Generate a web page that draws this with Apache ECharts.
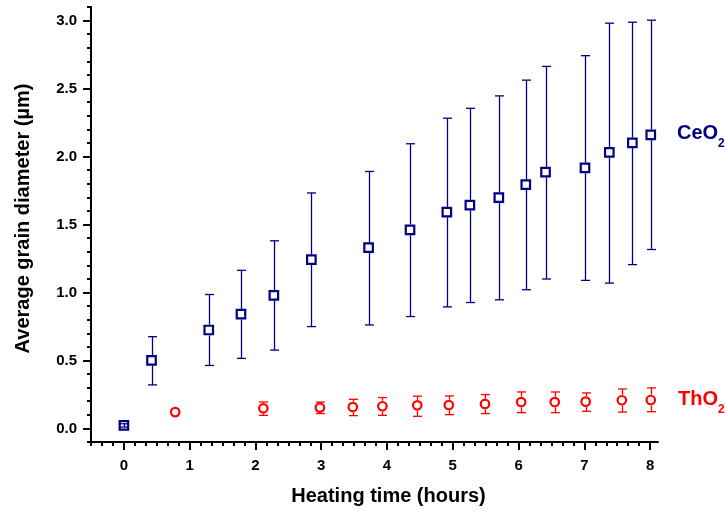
<!DOCTYPE html>
<html><head><meta charset="utf-8">
<script src="https://cdn.jsdelivr.net/npm/echarts@6/dist/echarts.min.js"></script>
<style>html,body{margin:0;padding:0;background:#fff}#c{width:726px;height:511px}</style>
</head><body><div id="c"></div>
<script>
// CeO2 data (hours, average grain diameter µm, error bar low/high)
const ceoHours = [0, 0.42, 1.29, 1.78, 2.28, 2.85, 3.72, 4.35, 4.91, 5.26, 5.70, 6.11, 6.41, 7.01, 7.38, 7.73, 8.01];
const ceoDiam  = [0.022, 0.50, 0.724, 0.84, 0.978, 1.242, 1.33, 1.461, 1.591, 1.643, 1.698, 1.794, 1.885, 1.916, 2.03, 2.101, 2.16];
const ceoLow   = [0.01, 0.32, 0.463, 0.515, 0.576, 0.749, 0.761, 0.823, 0.894, 0.926, 0.946, 1.02, 1.099, 1.089, 1.069, 1.205, 1.316];
const ceoHigh  = [0.034, 0.675, 0.985, 1.163, 1.38, 1.732, 1.89, 2.094, 2.282, 2.355, 2.446, 2.562, 2.663, 2.742, 2.981, 2.988, 3.003];
// ThO2 data
const thoHours = [0.78, 2.12, 2.98, 3.48, 3.93, 4.46, 4.94, 5.49, 6.04, 6.55, 7.02, 7.57, 8.01];
const thoDiam  = [0.12, 0.148, 0.153, 0.157, 0.163, 0.17, 0.172, 0.18, 0.194, 0.194, 0.197, 0.207, 0.209];
const thoLow   = [0.12, 0.096, 0.109, 0.094, 0.096, 0.089, 0.101, 0.109, 0.116, 0.116, 0.126, 0.12, 0.123];
const thoHigh  = [0.12, 0.194, 0.194, 0.214, 0.227, 0.237, 0.239, 0.249, 0.268, 0.268, 0.261, 0.29, 0.298];
// axis ticks
const xMajor = [0, 1, 2, 3, 4, 5, 6, 7, 8];
const yMajor = [0, 0.5, 1.0, 1.5, 2.0, 2.5, 3.0];
const xMinor = []; for (let i = -3; i <= 48; i++) xMinor.push(i / 6);
const yMinor = []; for (let i = -1; i <= 31; i++) yMinor.push(i / 10);

const FONT = "'Liberation Sans', Arial, sans-serif";
const NAVY = '#000080', RED = '#ff0000';
const X_MIN = -0.5, X_MAX = 8.12, Y_MIN = -0.1, Y_MAX = 3.1;

function errRender(color, r) {
  return function (params, api) {
    const x = api.value(0), lo = api.value(1), hi = api.value(2), y = api.value(3);
    if (hi <= lo) return { type: 'group', children: [] };
    const pLo = api.coord([x, lo]), pHi = api.coord([x, hi]), pC = api.coord([x, y]);
    const cx = Math.round(pC[0]) + 0.5;
    const st = { stroke: color, lineWidth: 1.3 };
    const cap = 4.5;
    const ch = [];
    if (pHi[1] < pC[1] - r && pLo[1] > pC[1] + r) {
      ch.push({ type: 'line', shape: { x1: cx, y1: pHi[1], x2: cx, y2: pC[1] - r }, style: st });
      ch.push({ type: 'line', shape: { x1: cx, y1: pC[1] + r, x2: cx, y2: pLo[1] }, style: st });
    } else {
      ch.push({ type: 'line', shape: { x1: cx, y1: pHi[1], x2: cx, y2: pLo[1] }, style: st });
    }
    ch.push({ type: 'line', shape: { x1: cx - cap, y1: pHi[1], x2: cx + cap, y2: pHi[1] }, style: st });
    ch.push({ type: 'line', shape: { x1: cx - cap, y1: pLo[1], x2: cx + cap, y2: pLo[1] }, style: st });
    return { type: 'group', children: ch };
  };
}

const chart = echarts.init(document.getElementById('c'), null, { renderer: 'canvas' });
const baseX = { type: 'value', min: X_MIN, max: X_MAX, gridIndex: 0, position: 'bottom', splitLine: { show: false } };
const baseY = { type: 'value', min: Y_MIN, max: Y_MAX, gridIndex: 0, position: 'left', splitLine: { show: false } };

chart.setOption({
  animation: false,
  backgroundColor: '#fff',
  grid: { left: 91, right: 68, top: 7, bottom: 69, containLabel: false },
  xAxis: [
    Object.assign({}, baseX, {
      axisLine: { show: true, onZero: false, lineStyle: { color: '#000', width: 2 } },
      axisTick: { show: true, customValues: xMinor, length: 4, lineStyle: { color: '#000', width: 2 } },
      axisLabel: { show: false }
    }),
    Object.assign({}, baseX, {
      axisLine: { show: false, onZero: false },
      axisTick: { show: true, customValues: xMajor, length: 8, lineStyle: { color: '#000', width: 2 } },
      axisLabel: { show: true, customValues: xMajor, margin: 16, color: '#000', fontSize: 15, fontWeight: 'bold', fontFamily: FONT,
        formatter: v => String(Math.round(v)) },
      name: 'Heating time (hours)', nameLocation: 'middle', nameGap: 44,
      nameTextStyle: { color: '#000', fontSize: 20, fontWeight: 'bold', fontFamily: FONT, padding: [0, 0, 0, 28] }
    })
  ],
  yAxis: [
    Object.assign({}, baseY, {
      axisLine: { show: true, onZero: false, lineStyle: { color: '#000', width: 2 } },
      axisTick: { show: true, customValues: yMinor, length: 4, lineStyle: { color: '#000', width: 2 } },
      axisLabel: { show: false }
    }),
    Object.assign({}, baseY, {
      axisLine: { show: false, onZero: false },
      axisTick: { show: true, customValues: yMajor, length: 8, lineStyle: { color: '#000', width: 2 } },
      axisLabel: { show: true, customValues: yMajor, margin: 14, color: '#000', fontSize: 15, fontWeight: 'bold', fontFamily: FONT,
        formatter: v => v.toFixed(1) },
      name: 'Average grain diameter (µm)', nameLocation: 'middle', nameGap: 58,
      nameTextStyle: { color: '#000', fontSize: 20, fontWeight: 'bold', fontFamily: FONT, padding: [0, 0, 0, 12] }
    })
  ],
  series: [
    {
      type: 'scatter', name: 'CeO2', xAxisIndex: 0, yAxisIndex: 0, z: 2,
      symbol: 'rect', symbolSize: 8.5,
      itemStyle: { color: '#fff', borderColor: NAVY, borderWidth: 2.2, opacity: 1 },
      data: ceoHours.map((h, i) => [h, ceoDiam[i]])
    },
    {
      type: 'scatter', name: 'ThO2', xAxisIndex: 0, yAxisIndex: 0, z: 2,
      symbol: 'circle', symbolSize: 8.5,
      itemStyle: { color: '#fff', borderColor: RED, borderWidth: 2.2, opacity: 1 },
      data: thoHours.map((h, i) => [h, thoDiam[i]])
    },
    {
      type: 'custom', xAxisIndex: 0, yAxisIndex: 0, z: 3, clip: false,
      renderItem: errRender(NAVY, 5.3),
      encode: { x: 0, y: [1, 2] },
      data: ceoHours.map((h, i) => [h, ceoLow[i], ceoHigh[i], ceoDiam[i]])
    },
    {
      type: 'custom', xAxisIndex: 0, yAxisIndex: 0, z: 3, clip: false,
      renderItem: errRender(RED, 5.4),
      encode: { x: 0, y: [1, 2] },
      data: thoHours.map((h, i) => [h, thoLow[i], thoHigh[i], thoDiam[i]])
    }
  ],
  graphic: [
    { type: 'text', left: 677, top: 123, style: { text: '{m|CeO}{s|2}', rich: {
      m: { fontSize: 20, fontWeight: 'bold', fontFamily: FONT, fill: NAVY, lineHeight: 24, verticalAlign: 'bottom' },
      s: { fontSize: 12, fontWeight: 'bold', fontFamily: FONT, fill: NAVY, lineHeight: 12, verticalAlign: 'bottom', padding: [0, 0, -7, 0] } } } },
    { type: 'text', left: 678, top: 389, style: { text: '{m|ThO}{s|2}', rich: {
      m: { fontSize: 20, fontWeight: 'bold', fontFamily: FONT, fill: RED, lineHeight: 24, verticalAlign: 'bottom' },
      s: { fontSize: 12, fontWeight: 'bold', fontFamily: FONT, fill: RED, lineHeight: 12, verticalAlign: 'bottom', padding: [0, 0, -7, 0] } } } }
  ]
});
</script></body></html>
